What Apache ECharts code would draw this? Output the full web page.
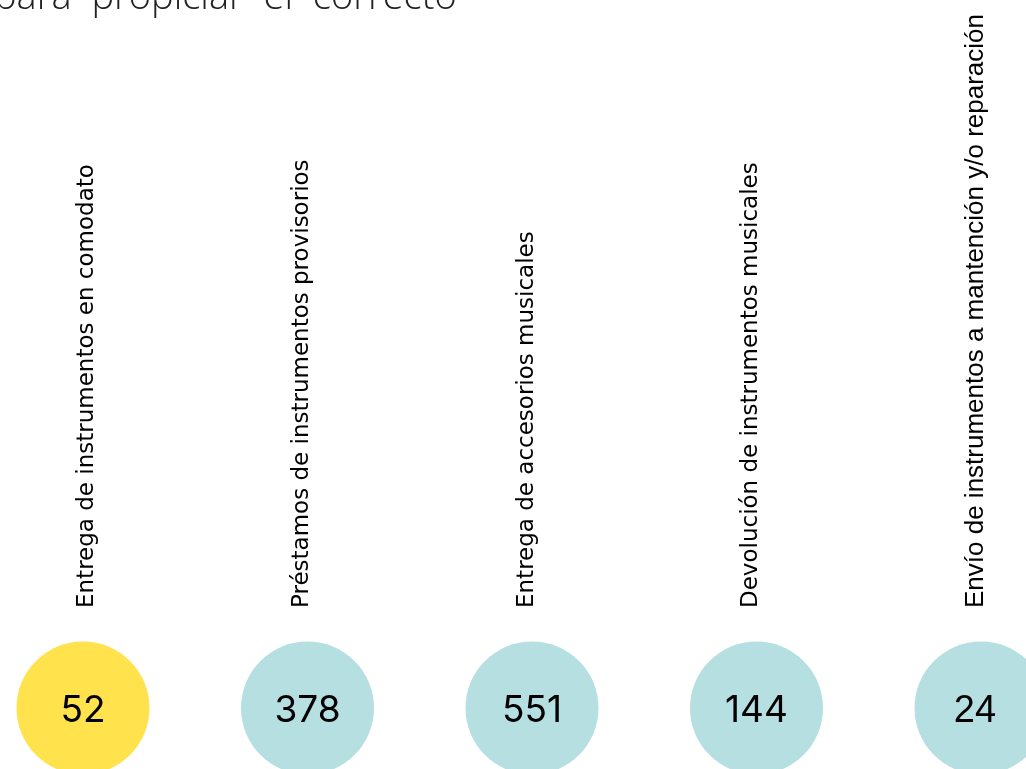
<!DOCTYPE html>
<html>
<head>
<meta charset="utf-8">
<script src="https://cdn.jsdelivr.net/npm/echarts@6/dist/echarts.min.js"></script>
<style>
  html, body { margin: 0; padding: 0; background: #fff; }
  #chart { width: 1026px; height: 769px; }
</style>
</head>
<body>
<div id="chart"></div>
<script>
// actividades y cantidades
var categories = [
  'Entrega de instrumentos en comodato',
  'Préstamos de instrumentos provisorios',
  'Entrega de accesorios musicales',
  'Devolución de instrumentos musicales',
  'Envío de instrumentos a mantención y/o reparación'
];
var values = [52, 378, 551, 144, 24];
var colors = ['#FFE24C', '#B5DFE1', '#B5DFE1', '#B5DFE1', '#B5DFE1'];
var headline = 'para  propiciar  el  correcto';

var chart = echarts.init(document.getElementById('chart'));

var points = [];
for (var i = 0; i < categories.length; i++) {
  var last = i == categories.length - 1;
  points.push({
    value: [categories[i], 0],
    itemStyle: { color: colors[i], opacity: 1 },
    label: last ? { fontFamily: 'Liberation Sans', fontSize: 38, offset: [-6, 4] } : {}
  });
}

var option = {
  animation: false,
  graphic: [{
    type: 'text',
    left: -6,
    top: -21,
    style: {
      text: headline,
      font: '300 38px "Open Sans"',
      fill: '#222'
    }
  }],
  grid: { left: 83, right: 45, top: 620, height: 176, outerBoundsMode: 'none' },
  xAxis: {
    type: 'category',
    position: 'top',
    boundaryGap: false,
    data: categories,
    axisLine: { show: false },
    axisTick: { show: false },
    axisLabel: {
      interval: 0,
      rotate: 90,
      margin: 12,
      color: '#000',
      fontFamily: 'DejaVu Sans',
      fontSize: 23,
      formatter: function (v, idx) {
        if (idx == 0) return '{r|' + v + '}';
        if (idx == categories.length - 1) return '{b|' + v + '}';
        return '{l|' + v + '}';
      },
      rich: {
        r: { fontFamily: 'DejaVu Sans', fontSize: 23, color: '#000', padding: [8, 0, 0, 0] },
        l: { fontFamily: 'DejaVu Sans', fontSize: 23, color: '#000', padding: [0, 0, 10, 0] },
        b: { fontFamily: 'Liberation Sans', fontSize: 26, color: '#000', padding: [0, 0, 10, 0] }
      }
    }
  },
  yAxis: { type: 'value', min: -1, max: 1, show: false },
  series: [{
    type: 'scatter',
    symbolSize: 133,
    data: points,
    label: {
      show: true,
      position: 'inside',
      offset: [0, 3],
      color: '#000',
      fontFamily: 'Inter',
      fontSize: 37,
      formatter: function (p) { return values[p.dataIndex]; }
    }
  }]
};
chart.setOption(option);
</script>
</body>
</html>
